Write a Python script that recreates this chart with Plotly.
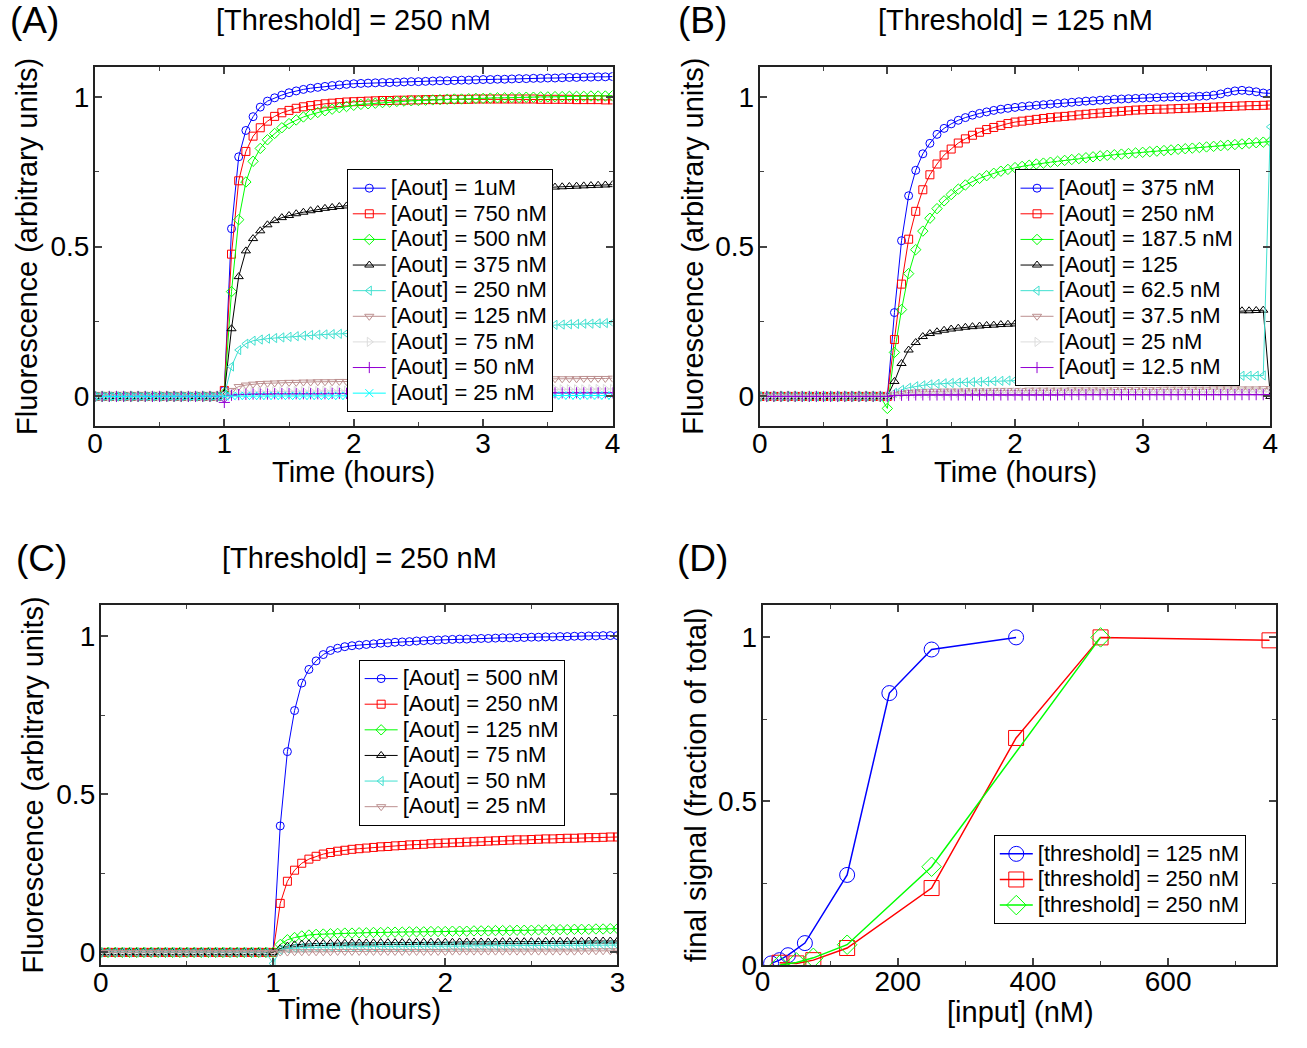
import plotly.graph_objects as go

W, H = 1307, 1048
FONT = "Liberation Sans, Arial, Helvetica, sans-serif"

# ---------------- time grids (hours) ----------------
t_AB = [i / 18 for i in range(73)]   # panels A, B : 0 .. 4 h
t_C = [i / 24 for i in range(73)]    # panel C : 0 .. 3 h

# ---------------- baselines before the input is added ----------------
pre_AB = [0.0, 0.0, 0.0, 0.0, 0.0, 0.0, 0.0, 0.0, 0.0,
          0.0, 0.0, 0.0, 0.0, 0.0, 0.0, 0.0, 0.0, 0.0]
pre_C = [0.0, 0.0, 0.0, 0.0, 0.0, 0.0, 0.0, 0.0, 0.0, 0.0, 0.0, 0.0,
         0.0, 0.0, 0.0, 0.0, 0.0, 0.0, 0.0, 0.0, 0.0, 0.0, 0.0, 0.0]

# ---------------- panel A : [Threshold] = 250 nM (values from t = 1 h) ----------------
names_A = ["[Aout] = 1uM", "[Aout] = 750 nM", "[Aout] = 500 nM", "[Aout] = 375 nM",
           "[Aout] = 250 nM", "[Aout] = 125 nM", "[Aout] = 75 nM", "[Aout] = 50 nM",
           "[Aout] = 25 nM"]
A_1000 = [0.02, 0.56, 0.80, 0.888, 0.934, 0.966, 0.986, 0.997, 1.006, 1.014,
          1.020, 1.025, 1.029, 1.032, 1.035, 1.038, 1.040, 1.042, 1.044,
          1.045, 1.046, 1.047, 1.048, 1.048, 1.049, 1.050, 1.051, 1.051,
          1.052, 1.053, 1.054, 1.054, 1.055, 1.056, 1.056, 1.057, 1.058,
          1.058, 1.059, 1.059, 1.060, 1.061, 1.061, 1.062, 1.062, 1.063,
          1.063, 1.064, 1.065, 1.065, 1.066, 1.066, 1.067, 1.067, 1.068]
A_750 = [0.02, 0.475, 0.72, 0.818, 0.869, 0.897, 0.919, 0.935, 0.947, 0.955,
         0.962, 0.967, 0.971, 0.974, 0.977, 0.979, 0.981, 0.983, 0.984,
         0.985, 0.986, 0.987, 0.988, 0.988, 0.989, 0.989, 0.990, 0.990,
         0.991, 0.991, 0.991, 0.992, 0.992, 0.992, 0.992, 0.993, 0.993,
         0.993, 0.993, 0.993, 0.993, 0.993, 0.993, 0.993, 0.992, 0.992,
         0.992, 0.992, 0.992, 0.991, 0.991, 0.991, 0.991, 0.990, 0.990]
A_500 = [0.01, 0.35, 0.59, 0.716, 0.785, 0.828, 0.857, 0.878, 0.897, 0.911,
         0.923, 0.933, 0.941, 0.948, 0.954, 0.959, 0.964, 0.968, 0.972,
         0.975, 0.977, 0.979, 0.981, 0.983, 0.985, 0.986, 0.987, 0.988,
         0.989, 0.990, 0.991, 0.992, 0.993, 0.993, 0.994, 0.995, 0.995,
         0.996, 0.997, 0.997, 0.998, 0.998, 0.999, 0.999, 1.000, 1.000,
         1.001, 1.001, 1.002, 1.002, 1.002, 1.003, 1.003, 1.003, 1.004]
A_375 = [0.01, 0.226, 0.40, 0.486, 0.527, 0.553, 0.573, 0.587, 0.597, 0.604,
         0.610, 0.615, 0.620, 0.624, 0.628, 0.631, 0.634, 0.636, 0.638,
         0.641, 0.644, 0.647, 0.650, 0.653, 0.656, 0.659, 0.662, 0.665,
         0.667, 0.669, 0.672, 0.674, 0.676, 0.678, 0.680, 0.682, 0.684,
         0.686, 0.688, 0.689, 0.691, 0.692, 0.694, 0.695, 0.697, 0.698,
         0.699, 0.700, 0.701, 0.702, 0.703, 0.704, 0.705, 0.706, 0.707]
A_250 = [0.005, 0.10, 0.155, 0.176, 0.186, 0.190, 0.193, 0.195, 0.197, 0.199,
         0.201, 0.203, 0.205, 0.206, 0.207, 0.208, 0.209, 0.210, 0.211,
         0.212, 0.213, 0.214, 0.215, 0.216, 0.217, 0.218, 0.219, 0.220,
         0.221, 0.222, 0.223, 0.224, 0.225, 0.226, 0.227, 0.228, 0.229,
         0.230, 0.231, 0.232, 0.233, 0.234, 0.235, 0.236, 0.237, 0.238,
         0.239, 0.240, 0.241, 0.242, 0.243, 0.243, 0.244, 0.245, 0.246]
A_125 = [0.0, 0.02, 0.033, 0.038, 0.041, 0.043, 0.044, 0.045, 0.046, 0.047,
         0.047, 0.048, 0.048, 0.049, 0.049, 0.049, 0.050, 0.050, 0.050,
         0.051, 0.051, 0.051, 0.052, 0.052, 0.052, 0.053, 0.053, 0.053,
         0.054, 0.054, 0.054, 0.055, 0.055, 0.055, 0.055, 0.056, 0.056,
         0.056, 0.057, 0.057, 0.057, 0.057, 0.058, 0.058, 0.058, 0.058,
         0.059, 0.059, 0.059, 0.059, 0.060, 0.060, 0.060, 0.060, 0.061]
A_75 = [0.0, 0.008, 0.012, 0.014, 0.015, 0.016, 0.016, 0.017, 0.017, 0.017,
        0.018, 0.018, 0.018, 0.018, 0.019, 0.019, 0.019, 0.019, 0.019,
        0.020, 0.020, 0.020, 0.020, 0.020, 0.020, 0.020, 0.021, 0.021,
        0.021, 0.021, 0.021, 0.021, 0.021, 0.022, 0.022, 0.022, 0.022,
        0.022, 0.022, 0.022, 0.023, 0.023, 0.023, 0.023, 0.023, 0.023,
        0.024, 0.024, 0.024, 0.024, 0.024, 0.024, 0.025, 0.025, 0.025]
A_50 = [-0.02, 0.004, 0.006, 0.007, 0.008, 0.008, 0.008, 0.009, 0.009, 0.009,
        0.009, 0.009, 0.009, 0.009, 0.009, 0.010, 0.010, 0.010, 0.010,
        0.010, 0.010, 0.010, 0.010, 0.010, 0.010, 0.010, 0.010, 0.010,
        0.011, 0.011, 0.011, 0.011, 0.011, 0.011, 0.011, 0.011, 0.011,
        0.011, 0.011, 0.011, 0.011, 0.011, 0.012, 0.012, 0.012, 0.012,
        0.012, 0.012, 0.012, 0.012, 0.012, 0.012, 0.012, 0.012, 0.012]
A_25 = [0.0, 0.001, 0.002, 0.002, 0.002, 0.002, 0.002, 0.002, 0.002, 0.002,
        0.002, 0.002, 0.002, 0.002, 0.002, 0.002, 0.002, 0.002, 0.002,
        0.003, 0.003, 0.003, 0.003, 0.003, 0.003, 0.003, 0.003, 0.003,
        0.003, 0.003, 0.003, 0.003, 0.003, 0.003, 0.003, 0.003, 0.003,
        0.003, 0.003, 0.003, 0.003, 0.003, 0.003, 0.003, 0.003, 0.003,
        0.003, 0.003, 0.003, 0.003, 0.003, 0.003, 0.003, 0.003, 0.003]
series_A = [A_1000, A_750, A_500, A_375, A_250, A_125, A_75, A_50, A_25]

# ---------------- panel B : [Threshold] = 125 nM ----------------
names_B = ["[Aout] = 375 nM", "[Aout] = 250 nM", "[Aout] = 187.5 nM", "[Aout] = 125",
           "[Aout] = 62.5 nM", "[Aout] = 37.5 nM", "[Aout] = 25 nM", "[Aout] = 12.5 nM"]
B_375 = [0.0, 0.28, 0.52, 0.67, 0.755, 0.81, 0.845, 0.875, 0.895, 0.91,
         0.922, 0.931, 0.939, 0.945, 0.950, 0.955, 0.959, 0.962, 0.965,
         0.968, 0.970, 0.972, 0.974, 0.976, 0.978, 0.980, 0.982, 0.984,
         0.986, 0.987, 0.989, 0.990, 0.992, 0.993, 0.994, 0.995, 0.996,
         0.997, 0.998, 0.999, 1.000, 1.000, 1.000, 1.001, 1.002, 1.003,
         1.006, 1.010, 1.016, 1.020, 1.022, 1.020, 1.017, 1.013, 1.012]
B_250 = [0.0, 0.19, 0.375, 0.525, 0.618, 0.69, 0.74, 0.776, 0.806, 0.826,
         0.846, 0.860, 0.872, 0.882, 0.891, 0.898, 0.905, 0.911, 0.916,
         0.919, 0.922, 0.925, 0.928, 0.931, 0.933, 0.935, 0.937, 0.940,
         0.942, 0.944, 0.946, 0.948, 0.950, 0.952, 0.954, 0.956, 0.957,
         0.958, 0.959, 0.959, 0.960, 0.961, 0.962, 0.963, 0.964, 0.965,
         0.966, 0.967, 0.968, 0.969, 0.970, 0.971, 0.971, 0.972, 0.973]
B_187 = [-0.04, 0.147, 0.29, 0.41, 0.49, 0.552, 0.595, 0.627, 0.653, 0.674,
         0.692, 0.706, 0.718, 0.728, 0.737, 0.745, 0.752, 0.758, 0.764,
         0.768, 0.772, 0.776, 0.779, 0.782, 0.785, 0.788, 0.791, 0.794,
         0.797, 0.800, 0.803, 0.805, 0.807, 0.809, 0.811, 0.813, 0.815,
         0.817, 0.819, 0.821, 0.823, 0.825, 0.827, 0.829, 0.831, 0.833,
         0.835, 0.837, 0.839, 0.841, 0.843, 0.845, 0.847, 0.849, 0.851]
B_125 = [0.0, 0.05, 0.11, 0.155, 0.18, 0.20, 0.21, 0.216, 0.221, 0.225,
         0.228, 0.231, 0.233, 0.235, 0.237, 0.238, 0.240, 0.241, 0.242,
         0.244, 0.246, 0.248, 0.250, 0.252, 0.254, 0.256, 0.258, 0.260,
         0.261, 0.263, 0.264, 0.265, 0.266, 0.268, 0.269, 0.270, 0.272,
         0.273, 0.274, 0.275, 0.276, 0.277, 0.278, 0.279, 0.280, 0.281,
         0.282, 0.283, 0.284, 0.285, 0.286, 0.286, 0.287, 0.288, 0.0]
B_62 = [0.0, 0.012, 0.022, 0.029, 0.034, 0.037, 0.040, 0.042, 0.044, 0.045,
        0.046, 0.047, 0.048, 0.049, 0.050, 0.051, 0.052, 0.053, 0.054,
        0.055, 0.055, 0.056, 0.056, 0.057, 0.057, 0.058, 0.058, 0.059,
        0.059, 0.060, 0.060, 0.061, 0.061, 0.062, 0.062, 0.062, 0.063,
        0.063, 0.064, 0.064, 0.065, 0.065, 0.065, 0.066, 0.066, 0.067,
        0.067, 0.067, 0.068, 0.068, 0.069, 0.069, 0.069, 0.070, 0.90]
B_37 = [0.0, 0.006, 0.010, 0.013, 0.015, 0.016, 0.017, 0.017, 0.018, 0.018,
        0.018, 0.019, 0.019, 0.019, 0.019, 0.020, 0.020, 0.020, 0.020,
        0.020, 0.021, 0.021, 0.021, 0.021, 0.021, 0.021, 0.022, 0.022,
        0.022, 0.022, 0.022, 0.022, 0.023, 0.023, 0.023, 0.023, 0.023,
        0.023, 0.023, 0.024, 0.024, 0.024, 0.024, 0.024, 0.024, 0.024,
        0.025, 0.025, 0.025, 0.025, 0.025, 0.025, 0.025, 0.026, 0.026]
B_25 = [0.0, 0.004, 0.007, 0.009, 0.010, 0.011, 0.011, 0.012, 0.012, 0.012,
        0.012, 0.013, 0.013, 0.013, 0.013, 0.013, 0.013, 0.013, 0.014,
        0.014, 0.014, 0.014, 0.014, 0.014, 0.014, 0.014, 0.014, 0.014,
        0.014, 0.015, 0.015, 0.015, 0.015, 0.015, 0.015, 0.015, 0.015,
        0.015, 0.015, 0.015, 0.015, 0.015, 0.015, 0.015, 0.015, 0.015,
        0.016, 0.016, 0.016, 0.016, 0.016, 0.016, 0.016, 0.016, 0.016]
B_12 = [0.0, 0.003, 0.004, 0.004, 0.005, 0.005, 0.005, 0.005, 0.005, 0.005,
        0.005, 0.005, 0.005, 0.005, 0.005, 0.005, 0.005, 0.005, 0.005,
        0.005, 0.005, 0.005, 0.005, 0.005, 0.005, 0.006, 0.006, 0.006,
        0.006, 0.006, 0.006, 0.006, 0.006, 0.006, 0.006, 0.006, 0.006,
        0.006, 0.006, 0.006, 0.006, 0.006, 0.006, 0.006, 0.006, 0.006,
        0.006, 0.006, 0.006, 0.006, 0.006, 0.006, 0.006, 0.006, 0.006]
series_B = [B_375, B_250, B_187, B_125, B_62, B_37, B_25, B_12]

# ---------------- panel C : [Threshold] = 250 nM (values from t = 1 h) ----------------
names_C = ["[Aout] = 500 nM", "[Aout] = 250 nM", "[Aout] = 125 nM", "[Aout] = 75 nM",
           "[Aout] = 50 nM", "[Aout] = 25 nM"]
C_500 = [0.0, 0.40, 0.635, 0.765, 0.852, 0.895, 0.922, 0.942, 0.955, 0.962, 0.967, 0.970, 0.972,
         0.974, 0.976, 0.978, 0.979, 0.981, 0.982, 0.983, 0.985, 0.986, 0.987, 0.988, 0.989,
         0.990, 0.991, 0.991, 0.992, 0.993, 0.993, 0.994, 0.995, 0.995, 0.996, 0.996, 0.997,
         0.997, 0.998, 0.998, 0.999, 0.999, 1.000, 1.000, 1.001, 1.001, 1.002, 1.002, 1.002]
C_250 = [0.0, 0.155, 0.225, 0.26, 0.282, 0.295, 0.304, 0.311, 0.316, 0.320, 0.323, 0.326, 0.328,
         0.330, 0.332, 0.334, 0.335, 0.337, 0.338, 0.340, 0.341, 0.342, 0.344, 0.345, 0.346,
         0.347, 0.348, 0.349, 0.350, 0.351, 0.352, 0.353, 0.354, 0.355, 0.356, 0.356, 0.357,
         0.358, 0.359, 0.359, 0.360, 0.361, 0.361, 0.362, 0.363, 0.363, 0.364, 0.365, 0.365]
C_125 = [0.0, 0.025, 0.040, 0.047, 0.052, 0.055, 0.057, 0.058, 0.059, 0.060, 0.061, 0.061, 0.062,
         0.062, 0.063, 0.063, 0.064, 0.064, 0.064, 0.065, 0.065, 0.065, 0.066, 0.066, 0.066,
         0.067, 0.067, 0.067, 0.068, 0.068, 0.068, 0.069, 0.069, 0.069, 0.070, 0.070, 0.070,
         0.071, 0.071, 0.072, 0.072, 0.072, 0.073, 0.073, 0.073, 0.074, 0.074, 0.075, 0.075]
C_75 = [0.0, 0.012, 0.020, 0.024, 0.026, 0.027, 0.028, 0.028, 0.029, 0.029, 0.029, 0.030, 0.030,
        0.030, 0.030, 0.031, 0.031, 0.031, 0.031, 0.031, 0.032, 0.032, 0.032, 0.032, 0.032,
        0.032, 0.033, 0.033, 0.033, 0.033, 0.033, 0.033, 0.034, 0.034, 0.034, 0.034, 0.034,
        0.034, 0.035, 0.035, 0.035, 0.035, 0.035, 0.035, 0.036, 0.036, 0.036, 0.036, 0.036]
C_50 = [-0.035, 0.008, 0.012, 0.014, 0.015, 0.016, 0.016, 0.017, 0.017, 0.017, 0.018, 0.018, 0.018,
        0.018, 0.018, 0.019, 0.019, 0.019, 0.019, 0.019, 0.019, 0.020, 0.020, 0.020, 0.020,
        0.020, 0.020, 0.020, 0.021, 0.021, 0.021, 0.021, 0.021, 0.021, 0.021, 0.021, 0.022,
        0.022, 0.022, 0.022, 0.022, 0.022, 0.022, 0.022, 0.023, 0.023, 0.023, 0.023, 0.023]
C_25 = [0.0, 0.001, 0.001, 0.002, 0.002, 0.002, 0.002, 0.002, 0.002, 0.003, 0.003, 0.003, 0.003,
        0.003, 0.003, 0.003, 0.003, 0.003, 0.003, 0.003, 0.003, 0.003, 0.003, 0.003, 0.003,
        0.004, 0.004, 0.004, 0.004, 0.004, 0.004, 0.004, 0.004, 0.004, 0.004, 0.004, 0.004,
        0.004, 0.004, 0.004, 0.004, 0.004, 0.004, 0.005, 0.005, 0.005, 0.005, 0.005, 0.005]
series_C = [C_500, C_250, C_125, C_75, C_50, C_25]

# ---------------- panel D : final signal vs input ----------------
names_D = ["[threshold] = 125 nM", "[threshold] = 250 nM", "[threshold] = 250 nM"]
D_x125 = [12.5, 25, 37.5, 62.5, 125, 187.5, 250, 375]
D_y125 = [0.005, 0.015, 0.03, 0.067, 0.275, 0.83, 0.963, 1.0]
D_x250a = [25, 50, 75, 125, 250, 375, 500, 750]
D_y250a = [0.007, 0.005, 0.015, 0.052, 0.235, 0.693, 1.0, 0.991]
D_x250b = [25, 50, 75, 125, 250, 500]
D_y250b = [0.0, 0.008, 0.022, 0.062, 0.30, 1.0]

# ---------------- styles ----------------
COLORS = ["#0000FF", "#FF0000", "#00FF00", "#000000", "#40E0D0",
          "#BC8F8F", "#DCDCDC", "#9400D3", "#00FFFF"]
SYMBOLS = ["circle-open", "square-open", "diamond-open", "triangle-up-open",
           "triangle-left-open", "triangle-down-open", "triangle-right-open",
           "cross-thin-open", "x-thin-open"]
LEG_TXT = 22        # rendered legend text size
LEG_ROW = 17.4      # legend font size used for the row pitch


def leg_name(s):
    return '<span style="font-size:%dpx">%s</span>' % (LEG_TXT, s)


fig = go.Figure()


def add_time_panel(t, pre, series, names, xa, ya, leg):
    for i, (ys, nm) in enumerate(zip(series, names)):
        fig.add_trace(go.Scatter(
            x=t, y=pre + ys, name=leg_name(nm), mode="lines+markers",
            xaxis=xa, yaxis=ya, legend=leg,
            line=dict(color=COLORS[i], width=1),
            marker=dict(symbol=SYMBOLS[i], size=8, color=COLORS[i],
                        line=dict(width=1, color=COLORS[i])),
        ))


add_time_panel(t_AB, pre_AB, series_A, names_A, "x", "y", "legend")
add_time_panel(t_AB, pre_AB, series_B, names_B, "x2", "y2", "legend2")
add_time_panel(t_C, pre_C, series_C, names_C, "x3", "y3", "legend3")

for i, (xs, ys) in enumerate([(D_x125, D_y125), (D_x250a, D_y250a), (D_x250b, D_y250b)]):
    fig.add_trace(go.Scatter(
        x=xs, y=ys, name=leg_name(names_D[i]), mode="lines+markers",
        xaxis="x4", yaxis="y4", legend="legend4",
        line=dict(color=COLORS[i], width=1.5),
        marker=dict(symbol=SYMBOLS[i], size=15, color=COLORS[i],
                    line=dict(width=1, color=COLORS[i])),
    ))


def axis(domain, rng, dtick, minor_dtick, anchor, standoff):
    return dict(
        domain=domain, range=rng, anchor=anchor,
        showline=True, linecolor="#222", linewidth=2, mirror="ticks",
        ticks="inside", ticklen=7, tickwidth=1.5, tickcolor="#444",
        tickmode="linear", tick0=0, dtick=dtick,
        minor=dict(ticks="inside", ticklen=4, tickwidth=1, tickcolor="#444",
                   dtick=minor_dtick, tick0=0, showgrid=False),
        showgrid=False, zeroline=False, ticklabelstandoff=standoff,
        tickfont=dict(family=FONT, size=28, color="black"),
    )


def px_x(a, b):
    return [a / W, b / W]


def px_y(top, bottom):
    return [1 - bottom / H, 1 - top / H]


XS, YS = -9, -2   # tick label standoffs for x and y axes
layout = dict(
    width=W, height=H, autosize=False,
    margin=dict(l=0, r=0, t=0, b=0),
    paper_bgcolor="white", plot_bgcolor="white",
    font=dict(family=FONT, color="black"),
    xaxis=axis(px_x(88, 612), [0, 4], 1, 0.5, "y", XS),
    yaxis=axis(px_y(68, 433), [-0.1, 1.1], 0.5, 0.25, "x", YS),
    xaxis2=axis(px_x(761, 1278), [0, 4], 1, 0.5, "y2", XS),
    yaxis2=axis(px_y(68, 433), [-0.1, 1.1], 0.5, 0.25, "x2", YS),
    xaxis3=axis(px_x(94, 617), [0, 3], 1, 0.5, "y3", XS),
    yaxis3=axis(px_y(614, 980), [-0.04, 1.1], 0.5, 0.25, "x3", YS),
    xaxis4=axis(px_x(764, 1284), [0, 760], 200, 100, "y4", -10),
    yaxis4=axis(px_y(614, 980), [0, 1.1], 0.5, 0.25, "x4", YS),
)


def legend_at(left, top):
    return dict(x=left / W, y=1 - top / H, xanchor="left", yanchor="top",
                bgcolor="white", bordercolor="black", borderwidth=1,
                font=dict(family=FONT, size=LEG_ROW, color="black"),
                itemwidth=33, tracegroupgap=0, traceorder="normal")


layout["legend"] = legend_at(343, 172)
layout["legend2"] = legend_at(1019, 172)
layout["legend3"] = legend_at(355, 670)
layout["legend4"] = legend_at(998, 848)
layout["showlegend"] = True

fig.update_layout(**layout)


def note(text, cx, cy, size=29, angle=0):
    fig.add_annotation(text=text, x=cx / W, y=1 - cy / H, xref="paper", yref="paper",
                       xanchor="center", yanchor="middle", showarrow=False,
                       textangle=angle, font=dict(family=FONT, size=size, color="black"))


# panel letters
note("(A)", 27, 21, 37)
note("(B)", 703, 21, 37)
note("(C)", 34, 567, 37)
note("(D)", 703, 567, 37)
# titles
note("[Threshold] = 250 nM", 350, 20)
note("[Threshold] = 125 nM", 1020, 20)
note("[Threshold] = 250 nM", 356, 567)
# x titles
note("Time (hours)", 350, 479)
note("Time (hours)", 1020, 479)
note("Time (hours)", 356, 1025)
note("[input] (nM)", 1025, 1028)
# y titles
note("Fluorescence (arbitrary units)", 19, 250, angle=-90)
note("Fluorescence (arbitrary units)", 694, 250, angle=-90)
note("Fluorescence (arbitrary units)", 25, 797, angle=-90)
note("final signal (fraction of total)", 696, 797, angle=-90)

fig.write_html("out.html")
